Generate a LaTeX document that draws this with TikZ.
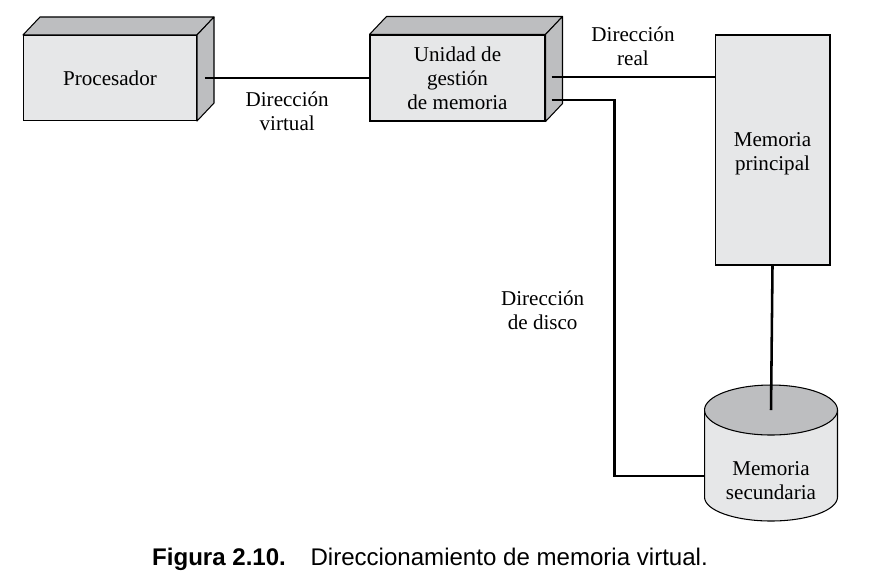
\documentclass[tikz,border=0pt]{standalone}
\usepackage{fontspec}
\setmainfont{Liberation Serif}
\newfontfamily\piefont{Liberation Sans}
\usetikzlibrary{calc}
\definecolor{frente}{HTML}{E6E7E8}
\definecolor{lado}{HTML}{BDBEC0}
\tikzset{%
  % Estilos de los nodos
        base/.style = {rectangle, draw=black, line width=0.6pt, fill=frente,
                       align=center, font=\fontsize{12}{13.6}\selectfont},
        caja/.style = {base, minimum width=3.46cm, minimum height=1.7cm},
     memoria/.style = {base, minimum width=2.3cm, minimum height=4.6cm},
    etiqueta/.style = {align=center, inner sep=1pt,
                       font=\fontsize{12}{13.6}\selectfont},
        cara/.style = {draw=black, line width=0.6pt, fill=lado, line join=round},
    conector/.style = {line width=1.45pt},
         pie/.style = {font=\piefont\fontsize{13.7}{16}\selectfont},
}

\begin{document}
\begin{tikzpicture}[x=0.02cm, y=-0.02cm]
\fill[white] (0,0) rectangle (884,582);
\useasboundingbox (0,0) rectangle (884,582);
% Nodos principales
\node (proc)    [caja]                 at (110,78)    {Procesador};
\node (mmu)     [caja, minimum width=3.5cm, minimum height=1.72cm]
                                       at (457.5,78)  {Unidad de\\gestión\\de memoria};
\node (memprin) [memoria]              at (772.5,150) {\\[-1.8pt]Memoria\\principal};
% Caras laterales y superiores de las cajas
\foreach \c in {proc, mmu} {
  \draw[cara] (\c.north west) -- ++(17,-18) -- ([shift={(17,-18)}]\c.north east)
              -- (\c.north east) -- cycle;
  \draw[cara] (\c.north east) -- ++(17,-18) -- ([shift={(17,-18)}]\c.south east)
              -- (\c.south east) -- cycle;
}
% Disco (cilindro)
\coordinate (tapa)  at (771,410);
\coordinate (fondo) at (771,497);
\draw[cara, fill=frente] ([xshift=-1.33cm]tapa) -- ([xshift=-1.33cm]fondo)
    arc[start angle=180, end angle=360, x radius=1.33cm, y radius=0.48cm]
    -- ([xshift=1.33cm]tapa) -- cycle;
\draw[cara] (tapa) ellipse [x radius=1.33cm, y radius=0.5cm];
\node (memsec) [align=center, inner sep=0pt, minimum width=2.66cm,
                font=\fontsize{12}{13.6}\selectfont] at (771,481) {Memoria\\secundaria};
% Conexiones entre nodos
\coordinate (sal1) at ([shift={(6,-1)}]mmu.east);
\coordinate (sal2) at ([shift={(6,22)}]mmu.east);
\draw[conector] ([xshift=4.5pt]proc.east) --
    node[etiqueta, below=6pt] (dvirtual) {Dirección\\virtual} (mmu.west);
\draw[conector] (sal1) --
    node[etiqueta, above=4.7pt] (dreal) {Dirección\\real} (sal1 -| memprin.west);
\draw[conector] (sal2) -- ++(63,0) |-
    node[etiqueta, pos=0.28, left=15.5pt] (ddisco) {Dirección\\de disco}
    ([yshift=2.8pt]memsec.west);
\draw[conector] (memprin.south) -- (tapa);
% Pie de figura
\node (pie) [pie] at (430,559)
    {\textbf{Figura 2.10.}\hspace{14pt}Direccionamiento de memoria virtual.};
\end{tikzpicture}
\end{document}
